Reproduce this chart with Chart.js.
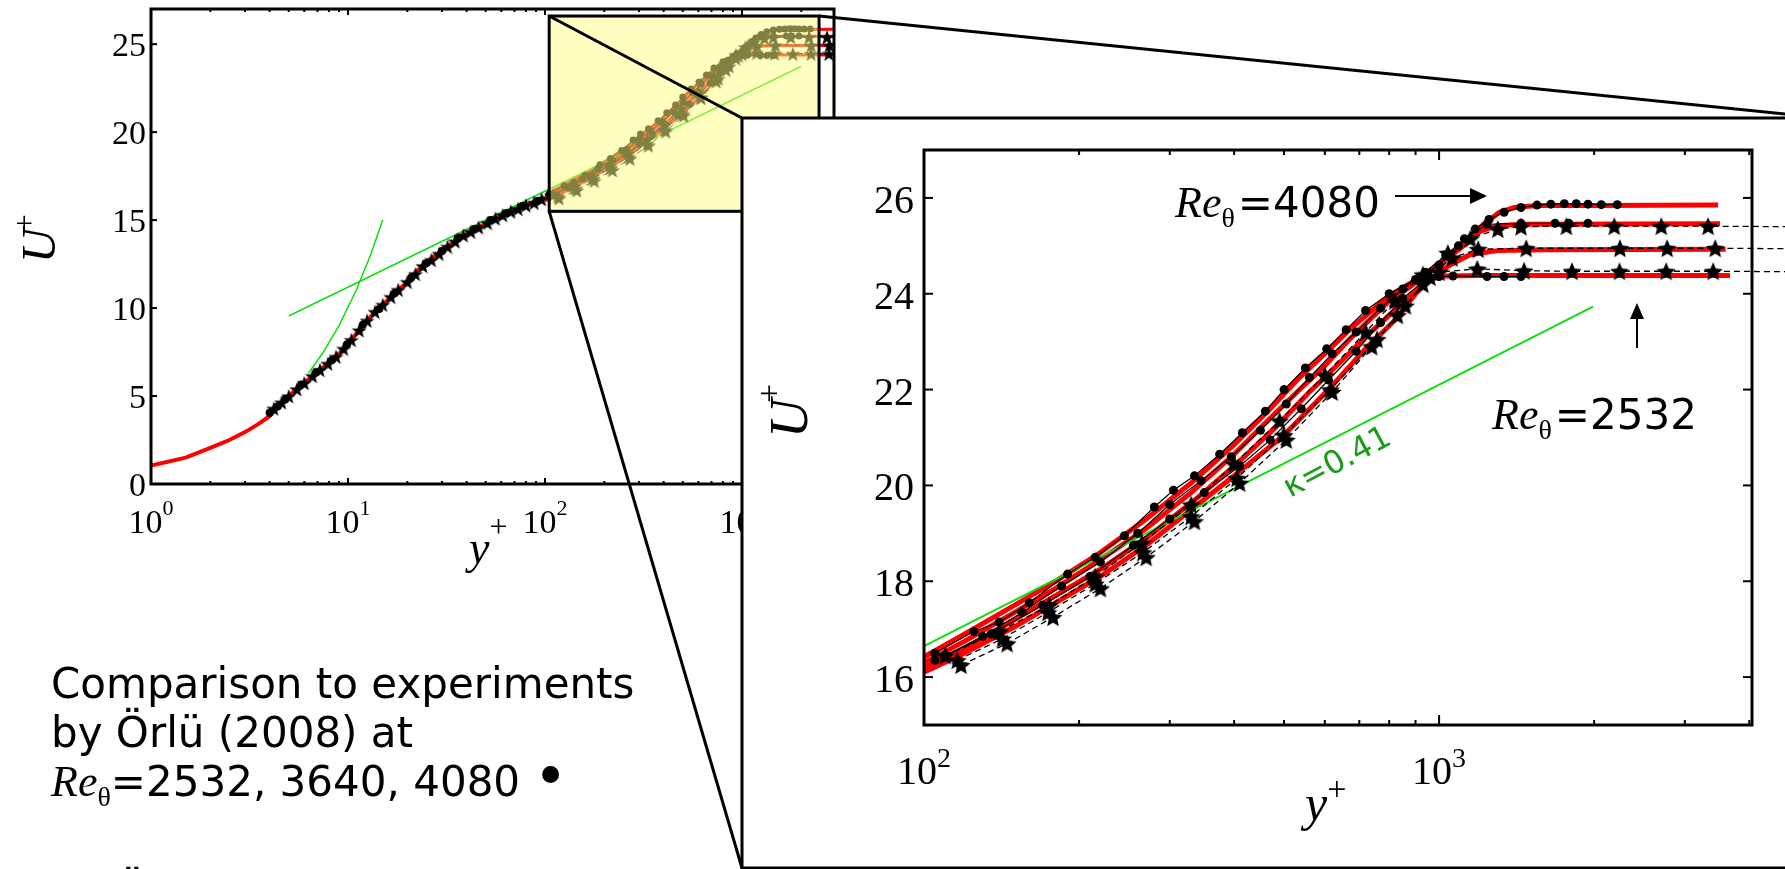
<!DOCTYPE html>
<html>
<head>
<meta charset="utf-8">
<script src="https://cdn.jsdelivr.net/npm/chart.js@4.4.1/dist/chart.umd.min.js"></script>
<style>
  html, body { margin: 0; padding: 0; background: #fff; overflow: hidden; }
  #page { position: relative; width: 1785px; height: 869px; overflow: hidden; background: #fff; }
  #page canvas, #page svg { position: absolute; left: 0; top: 0; }
</style>
</head>
<body>
<div id="page">
  <canvas id="main-chart" width="1785" height="869"></canvas>
  <canvas id="inset-chart" width="1785" height="869"></canvas>
  <svg width="1785" height="869" xmlns="http://www.w3.org/2000/svg">
    <!-- axis titles -->
    <g font-family="Liberation Serif" font-style="italic" fill="#000">
      <text transform="translate(55,263) rotate(-90)" font-size="48">U<tspan font-style="normal" font-size="32" dx="-4" dy="-20">+</tspan></text>
      <text x="469" y="563" font-size="46">y<tspan font-style="normal" font-size="32" dy="-26">+</tspan></text>
      <text transform="translate(807,438) rotate(-90)" font-size="54">U<tspan font-style="normal" font-size="34" dx="-4" dy="-27">+</tspan></text>
      <text x="1305" y="820" font-size="50">y<tspan font-style="normal" font-size="34" dy="-20">+</tspan></text>
    </g>

    <!-- inset annotations -->
    <text x="1175" y="217"><tspan font-family="Liberation Serif" font-style="italic" font-size="44">Re</tspan><tspan font-family="Liberation Serif" font-size="28" dy="10">θ</tspan><tspan font-family="DejaVu Sans" font-size="42" dx="3" dy="-10">=4080</tspan></text>
    <line x1="1395" y1="196" x2="1472" y2="196" stroke="#000" stroke-width="2"/>
    <polygon points="1487,196 1470,188 1470,204" fill="#000"/>

    <text x="1492" y="429"><tspan font-family="Liberation Serif" font-style="italic" font-size="44">Re</tspan><tspan font-family="Liberation Serif" font-size="28" dy="10">θ</tspan><tspan font-family="DejaVu Sans" font-size="42" dx="3" dy="-10">=2532</tspan></text>
    <line x1="1637" y1="348" x2="1637" y2="316" stroke="#000" stroke-width="2"/>
    <polygon points="1637,303 1630,319 1644,319" fill="#000"/>

    <text transform="translate(1290,498) rotate(-28)" font-family="DejaVu Sans" font-size="32" fill="#1c9c1c">κ=0.41</text>

    <!-- caption -->
    <g font-family="DejaVu Sans" font-size="42" fill="#000">
      <text x="51" y="698">Comparison to experiments</text>
      <text x="51" y="747">by Örlü (2008) at</text>
      <text x="51" y="796"><tspan font-family="Liberation Serif" font-style="italic" font-size="44">Re</tspan><tspan font-family="Liberation Serif" font-size="28" dy="10">θ</tspan><tspan dy="-10">=2532, 3640, 4080 </tspan><tspan font-size="58">•</tspan></text>
      <text x="51" y="906">by Österlund (1999) at</text>
    </g>
  </svg>
</div>

<script>
// ==================== data ====================
// near-wall / buffer profile (red line in the big plot)
const wallYplus = [1, 1.5, 2, 2.5, 3, 3.5, 4, 5, 6.3, 7.8, 9.4, 11.4, 13.7, 16.6, 20, 24, 31, 40, 51, 66, 84, 100];
const wallU = [1.05, 1.5, 2.05, 2.5, 2.95, 3.4, 3.85, 5.0, 5.95, 6.8, 7.6, 8.75, 9.8, 10.65, 11.5, 12.45, 13.4, 14.2, 14.85, 15.5, 15.95, 16.3];

// buffer-region markers in the big plot
const bufStarYplus = [4.2, 4.6, 5.0, 5.5, 6.0, 6.6, 7.2, 7.9, 8.7, 9.5, 10.4, 11.4, 12.5, 13.7, 15, 16.5, 18, 20, 22, 24, 26.5, 29, 32, 35, 38.5, 42, 46, 51, 56, 61, 67, 73, 80, 88, 96];
const bufStarU = [4.3, 4.65, 5.0, 5.4, 5.75, 6.15, 6.5, 6.85, 7.25, 7.7, 8.2, 8.75, 9.3, 9.8, 10.2, 10.65, 11.05, 11.5, 11.95, 12.4, 12.75, 13.1, 13.5, 13.8, 14.15, 14.35, 14.6, 14.85, 15.1, 15.3, 15.5, 15.65, 15.85, 16.0, 16.2];
const bufDotYplus = [4.0, 4.4, 4.8, 5.8, 6.9, 8.3, 9.9, 11.9, 14.4, 17.3, 21, 25, 30, 36, 44, 53, 64, 77, 92];
const bufDotU = [4.05, 4.4, 4.8, 5.65, 6.35, 7.05, 7.95, 9.05, 9.95, 10.85, 11.75, 12.55, 13.25, 13.95, 14.5, 15.0, 15.4, 15.8, 16.1];

// simulations (red)
const simAYplus = [100, 120, 150, 180, 220, 270, 330, 400, 470, 530, 600, 670, 740, 800, 880, 970, 1100, 1220, 1310, 1400, 1550, 2000, 3480];
const simAU = [16.42, 16.9, 17.5, 18.0, 18.6, 19.3, 20.05, 20.85, 21.6, 22.2, 22.75, 23.25, 23.65, 23.95, 24.22, 24.52, 24.98, 25.45, 25.7, 25.8, 25.84, 25.84, 25.85];
const simBYplus = [100, 120, 150, 180, 220, 270, 330, 400, 470, 530, 600, 670, 740, 800, 880, 970, 1100, 1200, 1300, 1450, 3510];
const simBU = [16.3, 16.75, 17.35, 17.85, 18.45, 19.1, 19.85, 20.65, 21.4, 21.95, 22.5, 23.05, 23.5, 23.85, 24.15, 24.5, 24.95, 25.3, 25.42, 25.45, 25.46];
const simCYplus = [100, 120, 150, 180, 220, 270, 340, 400, 480, 560, 640, 720, 800, 880, 960, 1050, 1150, 1300, 1600, 3600];
const simCU = [16.2, 16.6, 17.2, 17.7, 18.25, 18.9, 19.75, 20.4, 21.2, 21.95, 22.55, 23.1, 23.55, 23.95, 24.3, 24.6, 24.82, 24.9, 24.92, 24.93];
const simDYplus = [100, 120, 150, 180, 220, 270, 340, 400, 500, 610, 720, 830, 900, 960, 1030, 1200, 3670];
const simDU = [16.1, 16.5, 17.05, 17.55, 18.1, 18.75, 19.6, 20.2, 21.05, 22.0, 22.85, 23.5, 24.0, 24.3, 24.37, 24.38, 24.38];

// Orlu (2008), dots: Re_theta = 4080, 3640, 2532
const orluAYplus = [105, 125, 140, 160, 190, 215, 245, 280, 305, 335, 375, 415, 460, 500, 550, 605, 660, 720, 800, 900, 1000, 1090, 1175, 1250, 1337, 1442, 1549, 1648, 1750, 1846, 1945, 2065, 2218];
const orluAU = [16.5, 16.95, 17.15, 17.55, 18.15, 18.5, 18.95, 19.55, 19.9, 20.2, 20.65, 21.1, 21.55, 22.0, 22.45, 22.85, 23.25, 23.65, 24.0, 24.3, 24.6, 25.0, 25.35, 25.55, 25.7, 25.8, 25.85, 25.87, 25.88, 25.88, 25.87, 25.86, 25.86];
const orluBYplus = [110, 130, 155, 185, 220, 260, 300, 345, 395, 450, 505, 560, 620, 690, 770, 850, 940, 1030, 1120, 1239, 1442, 1679, 1786, 1945];
const orluBU = [16.45, 16.85, 17.35, 17.9, 18.4, 19.0, 19.6, 20.1, 20.6, 21.15, 21.7, 22.25, 22.75, 23.2, 23.7, 24.1, 24.45, 24.8, 25.15, 25.45, 25.47, 25.47, 25.47, 25.47];
const orluCYplus = [105, 135, 170, 210, 255, 300, 350, 410, 470, 540, 610, 690, 770, 850, 930, 1000, 1064, 1239, 1337, 1442];
const orluCU = [16.35, 16.9, 17.5, 18.1, 18.75, 19.3, 19.85, 20.4, 20.95, 21.6, 22.2, 22.8, 23.4, 23.9, 24.25, 24.36, 24.37, 24.36, 24.36, 24.36];

// Osterlund (1999), stars with dashed lines
const ostAYplus = [110, 140, 175, 215, 265, 330, 400, 490, 600, 720, 820, 930, 1040, 1150, 1300, 1442, 1766, 2188, 2700, 3328, 4700];
const ostAU = [16.45, 16.95, 17.5, 18.1, 18.8, 19.6, 20.45, 21.35, 22.3, 23.2, 23.85, 24.4, 24.85, 25.15, 25.35, 25.4, 25.41, 25.41, 25.41, 25.41, 25.4];
const ostBYplus = [116, 142, 174, 215, 266, 330, 405, 499, 615, 758, 860, 960, 1060, 1191, 1476, 2244, 2772, 3436, 4700];
const ostBU = [16.35, 16.8, 17.35, 17.95, 18.6, 19.35, 20.15, 21.05, 22.0, 23.05, 23.75, 24.35, 24.75, 24.93, 24.95, 24.95, 24.95, 24.95, 24.94];
const ostCYplus = [118, 145, 178, 220, 270, 335, 410, 505, 620, 740, 830, 930, 1000, 1186, 1462, 1811, 2240, 2759, 3404, 4700];
const ostCU = [16.25, 16.7, 17.25, 17.85, 18.5, 19.25, 20.05, 20.95, 21.95, 22.9, 23.55, 24.2, 24.45, 24.52, 24.48, 24.47, 24.47, 24.47, 24.47, 24.46];

// green reference lines
const viscYplus = [6.3, 7.5, 9, 11, 13, 15];
const viscU = [6.3, 7.5, 9, 11, 13, 15];
const logLawYplus = [5, 1990];
const logLawU = [9.55, 23.73];

// zoomed region marked in the big plot
const zoomBoxYplus = [105, 2460];
const zoomBoxU = [15.5, 26.6];

// ticks
const mainXTicks = [1, 10, 100, 1000];
const mainXMinor = [2, 3, 4, 5, 6, 7, 8, 9, 20, 30, 40, 50, 60, 70, 80, 90, 200, 300, 400, 500, 600, 700, 800, 900, 2000];
const mainYTicks = [0, 5, 10, 15, 20, 25];
const insetXTicks = [100, 1000];
const insetXMinor = [200, 300, 400, 500, 600, 700, 800, 900, 2000, 3000, 4000];
const insetYTicks = [16, 18, 20, 22, 24, 26];

// inset frame on the page
const insetFrame = { left: 742, top: 118, right: 1824, bottom: 868 };

// ==================== helpers ====================
function series(xs, ys) {
  return xs.map((x, i) => ({ x: x, y: ys[i] }));
}

function starImage(size, inner) {
  const c = document.createElement('canvas');
  c.width = size;
  c.height = size;
  const g = c.getContext('2d');
  const R = size / 2, r = R * inner;
  g.beginPath();
  for (let i = 0; i < 10; i++) {
    const rad = i % 2 === 0 ? R : r;
    const a = -Math.PI / 2 + i * Math.PI / 5;
    const px = R + rad * Math.cos(a), py = R + 1 + rad * Math.sin(a);
    if (i === 0) g.moveTo(px, py); else g.lineTo(px, py);
  }
  g.closePath();
  g.fillStyle = '#000';
  g.fill();
  return c;
}

const starSmall = starImage(16, 0.4);
const starBig = starImage(20, 0.45);

function line(ctx, x1, y1, x2, y2) {
  ctx.beginPath();
  ctx.moveTo(x1, y1);
  ctx.lineTo(x2, y2);
  ctx.stroke();
}

// matlab style box: inward ticks on all four sides, labels drawn by hand
function drawAxes(chart, s) {
  const { ctx, chartArea: a, scales: { x, y } } = chart;
  ctx.save();
  ctx.strokeStyle = '#000';
  ctx.lineWidth = 2;
  s.yTicks.forEach(v => {
    const py = y.getPixelForValue(v);
    line(ctx, a.left, py, a.left + s.yTickLen, py);
    line(ctx, a.right, py, a.right - s.yTickLen, py);
  });
  s.xTicks.forEach(v => {
    const px = x.getPixelForValue(v);
    line(ctx, px, a.bottom, px, a.bottom - s.xMajorLen);
    line(ctx, px, a.top, px, a.top + s.xMajorLen);
  });
  s.xMinor.forEach(v => {
    const px = x.getPixelForValue(v);
    if (px > a.right) return;
    line(ctx, px, a.bottom, px, a.bottom - s.xMinorLen);
    line(ctx, px, a.top, px, a.top + s.xMinorLen);
  });
  ctx.lineWidth = 3;
  ctx.strokeRect(a.left, a.top, a.right - a.left, a.bottom - a.top);

  ctx.fillStyle = '#000';
  ctx.textBaseline = 'alphabetic';
  ctx.font = s.labelSize + 'px "Liberation Serif"';
  ctx.textAlign = 'right';
  s.yTicks.forEach(v => {
    ctx.fillText(String(v), a.left - s.yLabelGap, y.getPixelForValue(v) + s.yLabelDrop);
  });
  ctx.textAlign = 'left';
  s.xTicks.forEach(v => {
    const px = x.getPixelForValue(v);
    const exp = String(Math.round(Math.log10(v)));
    ctx.font = s.labelSize + 'px "Liberation Serif"';
    const w1 = ctx.measureText('10').width;
    ctx.font = s.supSize + 'px "Liberation Serif"';
    const w2 = ctx.measureText(exp).width;
    const left = px - (w1 + w2) / 2;
    ctx.font = s.labelSize + 'px "Liberation Serif"';
    ctx.fillText('10', left, a.bottom + s.xLabelDrop);
    ctx.font = s.supSize + 'px "Liberation Serif"';
    ctx.fillText(exp, left + w1, a.bottom + s.xLabelDrop - s.supRaise);
  });
  ctx.restore();
}

function redLine(xs, ys, width) {
  return { data: series(xs, ys), showLine: true, borderColor: '#ff0000', borderWidth: width, pointRadius: 0, order: 5 };
}
function dotSeries(xs, ys, r, lw) {
  return { data: series(xs, ys), showLine: true, borderColor: '#000', borderWidth: lw, pointStyle: 'circle', pointRadius: r, backgroundColor: '#000', pointBorderWidth: 0, order: 1 };
}
function starSeries(xs, ys, img, lw, noClip) {
  return {
    data: series(xs, ys), showLine: true, borderColor: '#000', borderWidth: lw, borderDash: [6, 4],
    pointStyle: img, pointRadius: 8, order: 2, clip: noClip ? false : undefined
  };
}
function greenLine(xs, ys, width) {
  return { data: series(xs, ys), showLine: true, borderColor: '#11dd11', borderWidth: width, pointRadius: 0, order: 4 };
}

const baseOptions = {
  responsive: false,
  animation: false,
  events: [],
  plugins: { legend: { display: false }, tooltip: { enabled: false } }
};

// ==================== big plot ====================
const mainPlugin = {
  id: 'mainDecor',
  afterDraw(chart) {
    const { ctx, scales: { x, y } } = chart;
    drawAxes(chart, {
      yTicks: mainYTicks, xTicks: mainXTicks, xMinor: mainXMinor,
      yTickLen: 6, xMajorLen: 6, xMinorLen: 3,
      labelSize: 34, supSize: 22, yLabelGap: 5, yLabelDrop: 12, xLabelDrop: 49, supRaise: 18
    });
    // yellow zoom box over the data
    const bl = x.getPixelForValue(zoomBoxYplus[0]);
    const br = x.getPixelForValue(zoomBoxYplus[1]);
    const bt = y.getPixelForValue(zoomBoxU[1]);
    const bb = y.getPixelForValue(zoomBoxU[0]);
    ctx.save();
    ctx.fillStyle = 'rgba(255, 255, 130, 0.5)';
    ctx.fillRect(bl, bt, br - bl, bb - bt);
    ctx.strokeStyle = '#000';
    ctx.lineWidth = 3;
    ctx.strokeRect(bl, bt, br - bl, bb - bt);
    // lines to the inset
    line(ctx, bl, bt, insetFrame.left, insetFrame.top);
    line(ctx, bl, bb, insetFrame.left, insetFrame.bottom);
    line(ctx, br, bt, insetFrame.right, insetFrame.top);
    ctx.restore();
  }
};

new Chart(document.getElementById('main-chart'), {
  type: 'scatter',
  data: {
    datasets: [
      redLine(wallYplus, wallU, 4),
      redLine(simAYplus, simAU, 3),
      redLine(simBYplus, simBU, 3),
      redLine(simCYplus, simCU, 3),
      redLine(simDYplus, simDU, 3),
      greenLine(viscYplus, viscU, 1.5),
      greenLine(logLawYplus, logLawU, 1.5),
      dotSeries(bufDotYplus, bufDotU, 4, 0),
      { data: series(bufStarYplus, bufStarU), showLine: false, pointStyle: starSmall, pointRadius: 7, order: 2 },
      dotSeries(orluAYplus, orluAU, 3.5, 1),
      dotSeries(orluBYplus, orluBU, 3.5, 1),
      dotSeries(orluCYplus, orluCU, 3.5, 1),
      starSeries(ostAYplus, ostAU, starSmall, 1, false),
      starSeries(ostBYplus, ostBU, starSmall, 1, false),
      starSeries(ostCYplus, ostCU, starSmall, 1, false)
    ]
  },
  options: Object.assign({}, baseOptions, {
    layout: { padding: { left: 151, top: 8, right: 1785 - 834, bottom: 869 - 484 } },
    scales: {
      x: { type: 'logarithmic', min: 1, max: 2930, display: false },
      y: { type: 'linear', min: 0, max: 27, display: false }
    }
  }),
  plugins: [mainPlugin]
});

// ==================== inset ====================
const insetPlugin = {
  id: 'insetDecor',
  beforeDraw(chart) {
    const ctx = chart.ctx;
    ctx.save();
    ctx.fillStyle = '#fff';
    ctx.fillRect(insetFrame.left, insetFrame.top, insetFrame.right - insetFrame.left, insetFrame.bottom - insetFrame.top);
    ctx.strokeStyle = '#000';
    ctx.lineWidth = 3;
    ctx.strokeRect(insetFrame.left, insetFrame.top, insetFrame.right - insetFrame.left, insetFrame.bottom - insetFrame.top);
    ctx.restore();
  },
  afterDraw(chart) {
    drawAxes(chart, {
      yTicks: insetYTicks, xTicks: insetXTicks, xMinor: insetXMinor,
      yTickLen: 9, xMajorLen: 10, xMinorLen: 5,
      labelSize: 40, supSize: 28, yLabelGap: 10, yLabelDrop: 15, xLabelDrop: 59, supRaise: 17
    });
  }
};

new Chart(document.getElementById('inset-chart'), {
  type: 'scatter',
  data: {
    datasets: [
      greenLine(logLawYplus, logLawU, 2),
      redLine(simAYplus, simAU, 5),
      redLine(simBYplus, simBU, 5),
      redLine(simCYplus, simCU, 5),
      redLine(simDYplus, simDU, 5),
      dotSeries(orluAYplus, orluAU, 4.5, 1.2),
      dotSeries(orluBYplus, orluBU, 4.5, 1.2),
      dotSeries(orluCYplus, orluCU, 4.5, 1.2),
      starSeries(ostAYplus, ostAU, starBig, 1.3, true),
      starSeries(ostBYplus, ostBU, starBig, 1.3, true),
      starSeries(ostCYplus, ostCU, starBig, 1.3, true)
    ]
  },
  options: Object.assign({}, baseOptions, {
    layout: { padding: { left: 924, top: 150, right: 1785 - 1752, bottom: 869 - 725 } },
    scales: {
      x: { type: 'logarithmic', min: 100, max: 4050, display: false },
      y: { type: 'linear', min: 15, max: 27, display: false }
    }
  }),
  plugins: [insetPlugin]
});
</script>
</body>
</html>
